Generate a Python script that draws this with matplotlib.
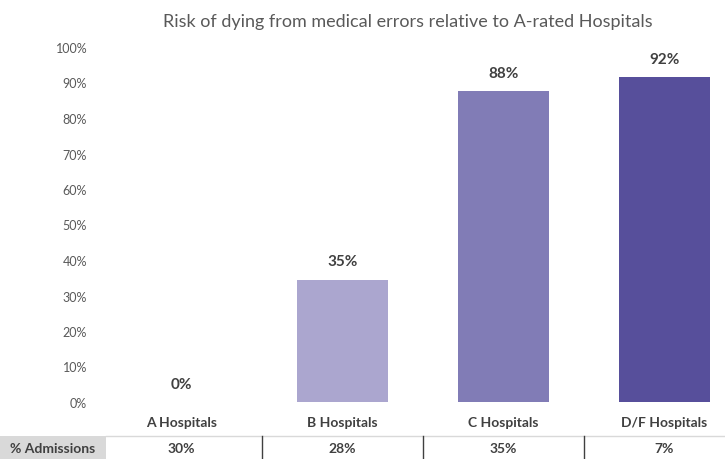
import matplotlib
matplotlib.use("Agg")
import matplotlib.pyplot as plt
from matplotlib.transforms import blended_transform_factory
from matplotlib.lines import Line2D
from matplotlib.patches import Rectangle

categories = ["A Hospitals", "B Hospitals", "C Hospitals", "D/F Hospitals"]
risk = [0.0, 0.345, 0.875, 0.915]
risk_labels = ["0%", "35%", "88%", "92%"]
admissions = ["30%", "28%", "35%", "7%"]
yticks = [i / 10 for i in range(11)]
ytick_labels = [f"{i*10}%" for i in range(11)]
colors = ["#ABA6CF", "#ABA6CF", "#817CB6", "#574F9B"]

plt.rcParams['font.family'] = ['Lato', 'DejaVu Sans']

W, H = 725, 460
fig = plt.figure(figsize=(W / 100, H / 100), dpi=100)
ax = fig.add_axes([101 / W, 1 - 403 / H, (W - 101) / W, (403 - 48) / H])

x = list(range(len(categories)))
ax.bar(x, risk, width=0.56, color=colors)
ax.set_xlim(-0.5, (W - 101) / 161 - 0.5)
ax.set_ylim(0, 1)
ax.set_yticks(yticks)
ax.set_yticklabels(ytick_labels, color="#595959", fontsize=9)
ax.set_xticks(x)
ax.set_xticklabels(categories, color="#404040", fontsize=10, fontweight="bold")
ax.tick_params(axis="x", length=0, pad=10)
ax.tick_params(axis="y", length=0, pad=10)
for s in ax.spines.values():
    s.set_visible(False)

for xi, v, lab in zip(x, risk, risk_labels):
    ax.annotate(lab, (xi, v), xytext=(0, 8), textcoords="offset points",
                ha="center", va="bottom", fontsize=11, fontweight="bold", color="#404040")

fig.text(408 / W, 1 - 22 / H, "Risk of dying from medical errors relative to A-rated Hospitals",
         ha="center", va="center", fontsize=13, color="#595959")

# table row
ty0, ty1 = 1 - 460 / H, 1 - 437 / H
fig.add_artist(Rectangle((0, ty0), 106 / W, ty1 - ty0, transform=fig.transFigure,
                         facecolor="#D9D9D9", edgecolor="none"))
fig.text(53 / W, 1 - 449 / H, "% Admissions", ha="center", va="center",
         fontsize=10, fontweight="bold", color="#404040")
fig.add_artist(Line2D([106 / W, 1], [ty1, ty1], transform=fig.transFigure,
                      color="#D9D9D9", lw=1))
bt = blended_transform_factory(ax.transData, fig.transFigure)
for xi, a in zip(x, admissions):
    fig.text(xi, 1 - 449 / H, a, transform=bt, ha="center", va="center",
             fontsize=10, fontweight="bold", color="#404040")
for xi in x[:-1]:
    fig.add_artist(Line2D([xi + 0.5, xi + 0.5], [ty0, ty1], transform=bt,
                          color="#404040", lw=1))

fig.savefig("out.png", dpi=100)
